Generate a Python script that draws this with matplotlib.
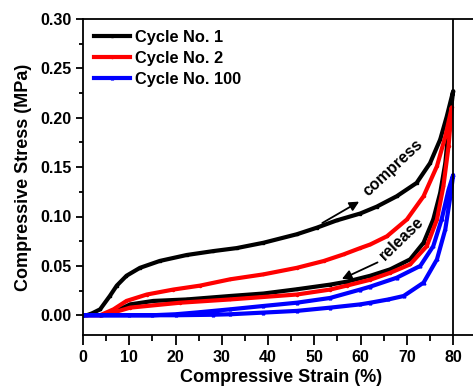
import matplotlib.pyplot as plt
from matplotlib.ticker import MultipleLocator

plt.rcParams['font.family'] = ['Liberation Sans', 'DejaVu Sans']
plt.rcParams['font.weight'] = 'bold'

# Cycle 1 (compress then release)
c1_strain = [0, 0.8, 2, 3.7, 5.8, 7.3, 9.4, 12.3, 16.6, 22.4, 28.2, 33.2, 39, 46.2, 50.5, 54.8, 59.9,
             63.5, 67.8, 72.1, 75, 77.2, 78.6, 80,
             79, 78.3, 77.2, 75.7, 73.6, 70.7, 66.4, 62.1, 57, 53.4, 46.2, 39, 31.8, 22.4, 15.2, 10.2,
             6.5, 4]
c1_stress = [0, 0, 0.002, 0.006, 0.0195, 0.030, 0.040, 0.048, 0.055, 0.061, 0.065, 0.068, 0.0734, 0.082,
             0.0886, 0.096, 0.103, 0.110, 0.1205, 0.134, 0.154, 0.178, 0.201, 0.227,
             0.188, 0.154, 0.124, 0.097, 0.0734, 0.0566, 0.0465, 0.040, 0.034, 0.031, 0.0263, 0.022,
             0.0195, 0.016, 0.0145, 0.011, 0.003, 0]

# Cycle 2
c2_strain = [0, 3.7, 6.6, 9.4, 13.8, 19.5, 25.3, 31.8, 39, 46.2, 52, 56.3, 59.9, 62.1, 65.7, 70, 73.6,
             76.5, 78.3, 79.7,
             79, 77.9, 76.5, 74.3, 70.7, 66.4, 62.1, 57, 53.4, 46.2, 31.8, 21, 10.2, 6, 4]
c2_stress = [0, 0, 0.006, 0.0145, 0.021, 0.026, 0.030, 0.0364, 0.0414, 0.048, 0.0549, 0.0616, 0.068,
             0.0717, 0.080, 0.097, 0.1205, 0.151, 0.181, 0.2105,
             0.171, 0.131, 0.097, 0.070, 0.0515, 0.043, 0.036, 0.030, 0.026, 0.021, 0.016, 0.0127,
             0.0077, 0.002, 0]

# Cycle 100
c100_strain = [0, 10, 20, 28, 31.8, 39, 46.2, 53.4, 59.9, 62.1, 66, 69.3, 73.6, 76.5, 78.3, 79.4, 80,
               79, 77.5, 75.7, 72.9, 67.8, 62.1, 59.9, 53.4, 46.2, 39, 31.8, 25, 20, 15, 0]
c100_stress = [0, 0, 0, 0.0005, 0.001, 0.0027, 0.0044, 0.0077, 0.0110, 0.0127, 0.016, 0.0195, 0.033,
               0.0566, 0.087, 0.1205, 0.142,
               0.127, 0.097, 0.070, 0.050, 0.038, 0.029, 0.026, 0.0175, 0.0127, 0.0094, 0.006,
               0.003, 0.001, 0, 0]

fig = plt.figure(figsize=(4.73, 3.86), dpi=100)
ax = fig.add_axes([83 / 473, 51 / 386, 397 / 473, 316 / 386])

ax.plot(c1_strain, c1_stress, color='black', lw=3, marker='s', ms=1.5, label='Cycle No. 1')
ax.plot(c2_strain, c2_stress, color='red', lw=3, marker='o', ms=1.5, label='Cycle No. 2')
ax.plot(c100_strain, c100_stress, color='blue', lw=3, marker='^', ms=2, label='Cycle No. 100')
ax.axvline(80, color='black', lw=1.3)

ax.set_xlim(0, 85.8)
ax.set_ylim(-0.02, 0.30)
ax.xaxis.set_major_locator(MultipleLocator(10))
ax.xaxis.set_minor_locator(MultipleLocator(5))
ax.yaxis.set_minor_locator(MultipleLocator(0.025))
ax.set_yticks([0, 0.05, 0.10, 0.15, 0.20, 0.25, 0.30])
ax.set_yticklabels(['0.00', '0.05', '0.10', '0.15', '0.20', '0.25', '0.30'])
ax.set_xticks(range(0, 81, 10))
ax.tick_params(axis='x', which='major', direction='out', length=7, width=1.3, labelsize=11.5, pad=4)
ax.tick_params(axis='y', which='major', direction='out', length=5, width=1.3, labelsize=11.5, pad=3)
ax.tick_params(axis='x', which='minor', direction='out', length=4, width=1.3)
ax.tick_params(axis='y', which='minor', direction='out', length=3, width=1.3)
for s in ax.spines.values():
    s.set_linewidth(1.3)

ax.set_xlabel('Compressive Strain (%)', fontsize=13, fontweight='bold', labelpad=3)
ax.set_ylabel('Compressive Stress (MPa)', fontsize=13, fontweight='bold', labelpad=6)

ax.text(66.9, 0.149, 'compress', rotation=43, fontsize=11.5, ha='center', va='center',
        rotation_mode='anchor')
ax.annotate('', xy=(60.2, 0.1165), xytext=(51.2, 0.092),
            arrowprops=dict(arrowstyle='-|>', color='black', lw=1.3, mutation_scale=14))
ax.text(68.9, 0.078, 'release', rotation=44, fontsize=11.5, ha='center', va='center',
        rotation_mode='anchor')
ax.annotate('', xy=(55.4, 0.0355), xytext=(64.2, 0.0547),
            arrowprops=dict(arrowstyle='-|>', color='black', lw=1.3, mutation_scale=14))

ax.legend(loc='upper left', frameon=False, fontsize=11.8, handlelength=2.2,
          handletextpad=0.3, labelspacing=0.38, borderaxespad=0.25)

fig.savefig('out.png', dpi=100)
